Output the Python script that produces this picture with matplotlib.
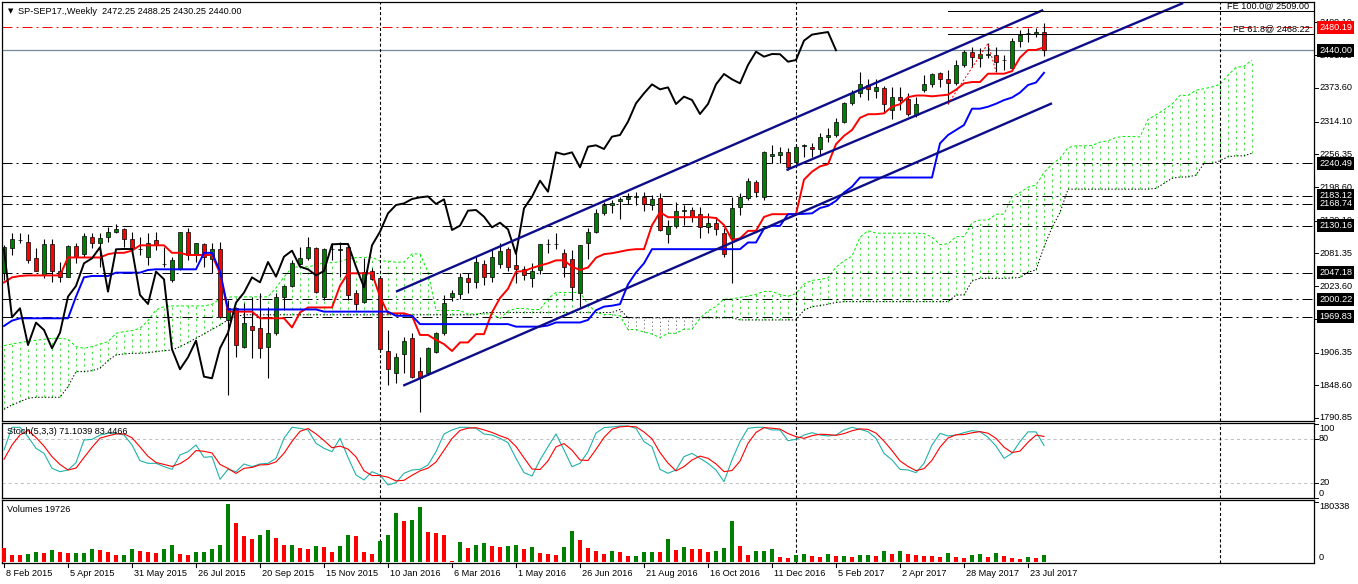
import numpy as np
import pandas as pd
import matplotlib
matplotlib.use('Agg')
from matplotlib import pyplot as plt
from matplotlib import transforms

plt.rcParams['font.family'] = ['Liberation Sans', 'DejaVu Sans']
plt.rcParams['lines.scale_dashes'] = False

W, H = 1358, 584
FS = 6.6

# SP-SEP17 weekly bars, 8 Feb 2015 .. 6 Aug 2017 (bar 0 .. 130)
opens = [2046.3, 2090.4, 2105.1, 2102.2, 2072.7, 2043.3, 2098.0, 2051.0, 2040.4, 2094.5,
         2080.4, 2111.0, 2100.4, 2109.8, 2118.6, 2123.9, 2106.3, 2088.6, 2075.7, 2105.1,
         2062.7, 2034.5, 2053.3, 2118.6, 2078.6, 2098.0, 2071.0, 2088.6, 1963.9, 1984.5,
         1916.8, 1953.3, 1949.2, 1916.8, 1940.3, 2003.9, 2023.9, 2062.7, 2072.7, 2090.4,
         2005.1, 2088.6, 2088.0, 2092.2, 2012.1, 1996.2, 2051.0, 2037.4, 1909.7, 1869.7,
         1903.9, 1931.5, 1874.4, 1869.7, 1908.0, 1940.3, 2005.0, 2009.7, 2037.4, 2031.5,
         2062.7, 2039.1, 2062.7, 2088.6, 2060.9, 2053.3, 2037.4, 2052.1, 2097.4, 2097.4,
         2081.5, 2070.9, 2012.1, 2099.1, 2119.7, 2153.2, 2166.2, 2173.3, 2176.8, 2181.5,
         2181.5, 2166.8, 2178.6, 2115.0, 2129.7, 2156.0, 2158.0, 2150.9, 2127.4, 2135.6,
         2116.8, 2108.0, 2163.9, 2178.6, 2206.9, 2181.5, 2254.0, 2255.7, 2259.8, 2243.3,
         2271.0, 2269.8, 2265.0, 2286.4, 2290.4, 2313.9, 2346.3, 2364.0, 2378.6, 2368.0,
         2372.8, 2334.5, 2358.1, 2354.5, 2325.7, 2369.8, 2379.8, 2400.4, 2388.7, 2381.6,
         2414.0, 2436.3, 2425.8, 2432.0, 2431.6, 2422.0, 2408.0, 2457.0, 2469.9, 2468.7,
         2472.25]
highs = [2096.3, 2116.9, 2116.9, 2115.7, 2090.4, 2106.3, 2106.3, 2066.8, 2096.3, 2099.2,
         2116.9, 2116.9, 2116.9, 2128.6, 2133.3, 2125.7, 2119.8, 2111.0, 2118.0, 2119.8,
         2093.3, 2075.7, 2119.2, 2125.7, 2100.4, 2100.4, 2099.2, 2102.2, 1999.2, 1987.4,
         1993.3, 2005.1, 2010.9, 1987.4, 2010.9, 2025.7, 2069.8, 2093.3, 2111.0, 2093.3,
         2090.4, 2099.2, 2102.0, 2093.3, 2016.8, 2072.7, 2055.0, 2040.4, 1946.2, 1905.0,
         1934.5, 1940.3, 1899.2, 1916.8, 1943.3, 2008.0, 2016.0, 2046.2, 2046.2, 2075.6,
         2069.7, 2088.6, 2100.3, 2092.0, 2081.5, 2060.0, 2063.8, 2098.0, 2106.2, 2116.8,
         2088.6, 2087.4, 2096.0, 2125.6, 2160.0, 2172.7, 2176.0, 2181.5, 2187.4, 2190.3,
         2190.3, 2184.5, 2187.4, 2140.3, 2171.5, 2166.8, 2162.7, 2162.7, 2152.1, 2146.2,
         2125.6, 2181.5, 2187.4, 2213.9, 2211.0, 2263.0, 2272.7, 2269.8, 2266.9, 2272.0,
         2274.0, 2275.7, 2294.5, 2302.0, 2319.8, 2349.2, 2369.8, 2402.2, 2388.7, 2388.7,
         2376.9, 2374.5, 2374.5, 2365.1, 2358.1, 2396.3, 2399.3, 2402.2, 2405.1, 2422.8,
         2440.4, 2445.1, 2443.4, 2452.0, 2446.3, 2431.6, 2461.0, 2475.7, 2478.7, 2478.7,
         2488.25]
lows = [2034.5, 2078.6, 2100.4, 2065.1, 2050.4, 2037.4, 2031.5, 2031.5, 2039.2, 2063.9,
        2074.5, 2090.4, 2058.0, 2102.2, 2116.9, 2093.3, 2081.6, 2078.6, 2061.0, 2087.4,
        2058.0, 2031.5, 2052.1, 2069.8, 2066.8, 2058.0, 2046.3, 1966.8, 1831.5, 1899.2,
        1913.9, 1896.2, 1896.2, 1860.9, 1937.4, 1981.5, 2021.5, 2061.0, 2069.8, 2010.9,
        1999.2, 2070.0, 2040.0, 1999.2, 1981.5, 1993.3, 2034.5, 1908.0, 1849.1, 1852.1,
        1869.7, 1860.9, 1802.1, 1866.0, 1905.0, 1937.4, 1998.0, 2000.0, 2010.9, 2019.7,
        2025.6, 2031.5, 2055.6, 2050.0, 2029.7, 2035.0, 2021.5, 2045.0, 2082.7, 2089.7,
        2040.3, 1999.1, 1987.4, 2072.0, 2118.0, 2150.0, 2152.0, 2141.5, 2168.0, 2167.0,
        2157.0, 2158.0, 2121.5, 2100.3, 2125.6, 2131.5, 2137.4, 2108.0, 2116.8, 2113.9,
        2075.6, 2028.5, 2149.1, 2175.6, 2181.5, 2175.6, 2240.4, 2240.4, 2228.6, 2239.2,
        2252.0, 2252.1, 2255.0, 2278.6, 2287.5, 2312.2, 2343.4, 2358.1, 2352.2, 2355.1,
        2331.6, 2318.0, 2334.5, 2323.9, 2322.8, 2366.9, 2374.5, 2375.7, 2345.25, 2378.6,
        2411.0, 2411.0, 2411.0, 2425.8, 2402.25, 2405.1, 2405.0, 2446.3, 2455.0, 2464.0,
        2430.25]
closes = [2093.3, 2106.3, 2105.7, 2069.8, 2051.0, 2098.0, 2051.0, 2039.2, 2094.5, 2075.7,
          2112.2, 2100.4, 2108.0, 2119.2, 2123.9, 2106.3, 2090.4, 2089.0, 2099.2, 2096.3,
          2063.3, 2069.8, 2118.6, 2078.6, 2099.2, 2074.5, 2088.6, 1968.6, 1984.5, 1919.7,
          1959.2, 1946.2, 1913.9, 1941.5, 2005.1, 2023.9, 2063.9, 2072.7, 2092.2, 2013.9,
          2088.6, 2089.2, 2089.0, 2008.0, 1992.1, 2049.2, 2035.7, 1912.1, 1876.8, 1898.0,
          1927.4, 1863.8, 1860.9, 1913.9, 1941.5, 1994.5, 2012.1, 2039.1, 2030.3, 2066.2,
          2040.3, 2075.6, 2086.2, 2057.9, 2053.3, 2042.7, 2050.3, 2097.4, 2098.0, 2098.0,
          2057.9, 2021.5, 2095.6, 2119.7, 2152.1, 2166.8, 2169.7, 2177.4, 2180.3, 2182.0,
          2168.6, 2176.8, 2122.7, 2130.3, 2156.8, 2158.0, 2146.2, 2127.4, 2135.6, 2123.9,
          2080.3, 2160.9, 2181.5, 2209.8, 2190.3, 2259.8, 2256.0, 2259.8, 2233.3, 2269.8,
          2272.2, 2265.7, 2287.5, 2290.4, 2313.9, 2346.3, 2364.0, 2379.8, 2371.0, 2374.5,
          2345.1, 2358.1, 2352.2, 2327.5, 2345.1, 2379.8, 2398.1, 2388.7, 2381.6, 2414.0,
          2437.5, 2428.7, 2433.4, 2433.0, 2419.8, 2422.8, 2457.0, 2467.6, 2470.0, 2472.2,
          2440.00]
volumes_k = [43, 20, 20, 23, 29, 28, 35, 29, 26, 27, 28, 38, 35, 29, 20, 21, 38, 32, 31, 26,
             38, 50, 23, 20, 29, 30, 38, 50, 173, 116, 77, 68, 80, 95, 71, 50, 51, 41, 40, 47,
             46, 29, 47, 80, 77, 29, 23, 62, 80, 146, 122, 125, 164, 89, 86, 80, 3, 60, 42, 51,
             57, 48, 45, 48, 51, 39, 45, 27, 24, 21, 45, 93, 66, 42, 33, 24, 33, 30, 18, 19,
             30, 31, 30, 69, 36, 45, 39, 38, 30, 33, 41, 122, 47, 20, 32, 33, 38, 14, 11, 20,
             23, 17, 16, 23, 17, 18, 14, 20, 21, 17, 32, 23, 32, 23, 20, 19, 17, 14, 26, 14,
             13, 20, 23, 14, 26, 17, 11, 10, 14, 11, 19.726]

# Stochastic(5,3,3) main line, and the first two signal values
stoch_main = [65.0, 95.9, 95.9, 83.2, 67.3, 60.4, 40.0, 35.4, 37.7, 47.7,
              78.6, 79.5, 85.4, 87.7, 87.7, 85.4, 71.8, 50.4, 46.8, 46.8,
              42.3, 38.6, 58.2, 62.7, 71.8, 55.0, 55.9, 25.0, 38.6, 35.4,
              45.9, 42.3, 45.9, 46.8, 53.6, 80.9, 95.9, 94.5, 92.3, 74.1,
              67.3, 62.7, 80.9, 55.0, 30.9, 24.1, 35.4, 30.9, 17.3, 20.4,
              33.2, 37.7, 38.6, 44.5, 62.7, 86.8, 92.3, 95.9, 95.9, 94.5,
              86.8, 85.4, 80.9, 75.0, 53.6, 34.1, 29.5, 51.4, 69.5, 86.8,
              65.0, 42.3, 46.8, 62.7, 88.0, 95.5, 96.4, 97.7, 97.7, 94.5,
              76.4, 69.5, 38.6, 33.2, 37.7, 55.9, 60.4, 53.6, 46.8, 37.7,
              21.8, 51.4, 76.4, 94.5, 95.9, 95.9, 92.3, 92.3, 77.7, 79.5,
              85.4, 88.6, 85.4, 84.1, 85.4, 92.3, 95.9, 93.2, 90.0, 80.9,
              60.4, 51.4, 38.6, 37.7, 34.1, 46.8, 71.8, 87.7, 84.1, 85.4,
              88.6, 91.4, 90.0, 82.3, 70.4, 53.6, 60.4, 76.4, 89.7, 89.7,
              71.1039]
stoch_signal_start = [52.3, 71.8]

# Ichimoku values on the first bars (their history lies left of the chart)
tenkan_start = [2030.0, 2039.0, 2041.5, 2042.5, 2042.5, 2042.5, 2042.5, 2042.5]
kijun_start = [1953.3, 1962.7, 1966.8, 1966.8, 1966.8, 1966.8, 1966.8, 1966.8, 1966.8,
               2005.0, 2039.2, 2041.5, 2041.5, 2041.5, 2047.4, 2047.4, 2047.4, 2047.4,
               2052.1, 2053.3, 2053.3, 2053.3, 2053.3, 2053.3, 2053.3]
span_a_start = [1918.6, 1921.5, 1923.9, 1926.2, 1928.0, 1929.8, 1931.5, 1931.5, 1929.8,
                1916.8, 1913.9, 1916.8, 1921.5, 1925.6, 1940.3, 1943.3, 1945.0, 1949.2,
                1962.7, 1981.5, 1987.4, 1988.6, 1988.6, 1988.6, 1988.6, 1988.6]
span_b_start = ([1806.2, 1813.8, 1819.7, 1825.6, 1827.4, 1827.4, 1827.4, 1827.4, 1846.2,
                 1872.7, 1872.7, 1874.4, 1878.6, 1892.1, 1902.1, 1903.9, 1905.0, 1905.0,
                 1906.2, 1908.0, 1909.7, 1910.9, 1916.8, 1923.9, 1931.5, 1939.2, 1947.4,
                 1955.0, 1963.9, 1970.0] + [1973.0] * 30 + [1977.0] * 17)

date_labels = ['8 Feb 2015', '5 Apr 2015', '31 May 2015', '26 Jul 2015', '20 Sep 2015',
               '15 Nov 2015', '10 Jan 2016', '6 Mar 2016', '1 May 2016', '26 Jun 2016',
               '21 Aug 2016', '16 Oct 2016', '11 Dec 2016', '5 Feb 2017', '2 Apr 2017',
               '28 May 2017', '23 Jul 2017']
price_ticks = [1790.85, 1848.60, 1906.35, 1965.85, 2023.60, 2081.35, 2139.10, 2198.60,
               2256.35, 2314.10, 2373.60, 2431.35, 2489.10]
levels = [2240.49, 2183.12, 2168.74, 2130.16, 2047.18, 2000.22, 1969.83]
red_level = 2480.19
bid = 2440.00
year_starts = [47, 99, 152]
channel_upper = [(49.0, 2013.8), (129.9, 2511.1)]
channel_lower = [(49.9, 1847.9), (131.0, 2346.4)]
channel_inner = [(97.8, 2228.6), (147.4, 2523.4)]
fe_points = [(118, 2345.25), (123, 2452.00), (124, 2402.25)]
fe_levels = [(100.0, 2509.00), (61.8, 2468.22)]

n = len(closes)
xi = np.arange(n)

# ichimoku
hi = pd.Series(highs)
lo = pd.Series(lows)
tenkan = ((hi.rolling(9).max() + lo.rolling(9).min()) / 2).to_numpy()
tenkan[:len(tenkan_start)] = tenkan_start
kijun = ((hi.rolling(26).max() + lo.rolling(26).min()) / 2).to_numpy()
kijun[:len(kijun_start)] = kijun_start
span_a = np.full(n + 26, np.nan)
span_a[26:] = (tenkan + kijun) / 2
span_a[:len(span_a_start)] = span_a_start
span_b = np.full(n + 26, np.nan)
span_b[26:] = ((hi.rolling(52).max() + lo.rolling(52).min()) / 2).to_numpy()
span_b[:len(span_b_start)] = span_b_start
xc = np.arange(n + 26)

sig = pd.Series(stoch_main).rolling(3).mean().to_numpy()
sig[:2] = stoch_signal_start

fig = plt.figure(figsize=(W / 100, H / 100), dpi=100)


def panel(top, bottom):
    a = fig.add_axes([2 / W, 1 - bottom / H, 1312 / W, (bottom - top) / H])
    a.set_xlim(-0.25, 163.75)
    a.set_xticks([])
    a.set_yticks([])
    for s in a.spines.values():
        s.set_linewidth(0.9)
        s.set_color('black')
    return a


ax = panel(2, 421)
axs = panel(423, 498)
axv = panel(500, 563)
ax.set_ylim(1785.5, 2525.2)
axs.set_ylim(-0.5, 101.8)
axv.set_ylim(-3006, 186350)

RX = 1 + 5 / 1312  # right-axis text x in axes fraction
TK = 1 + 4 / 1312

# --- main panel ---
dashdot = (0, (7.2, 2.9, 1.4, 2.9))
for p in levels:
    ax.axhline(p, color='black', lw=0.72, ls=dashdot, zorder=2)
ax.axhline(red_level, color='#ff0000', lw=0.72, ls=dashdot, zorder=2)
ax.axhline(bid, color='#778899', lw=0.9, zorder=2)

# kumo hatching
a_up = span_a >= span_b
ax.vlines(xc[a_up], span_b[a_up], span_a[a_up], color='#22dd22', lw=0.6,
          linestyles=[(0, (1.6, 2.6))], zorder=1)
ax.vlines(xc[~a_up], span_a[~a_up], span_b[~a_up], color='#444444', lw=0.6,
          linestyles=[(0, (0.8, 2.0))], zorder=1)
ax.plot(xc, span_a, color='#00ee00', lw=0.72, ls=(0, (2.0, 1.6)), zorder=1)
ax.plot(xc, span_b, color='black', lw=0.72, ls=(0, (1.0, 1.4)), zorder=1)

# candles
o = np.array(opens)
c = np.array(closes)
up = c >= o
ax.vlines(xi, lows, highs, color='black', lw=0.8, zorder=3)
ax.bar(xi, np.maximum(np.abs(c - o), 0.5), bottom=np.minimum(o, c), width=0.62,
       color=np.where(up, '#008000', '#ff0000'), edgecolor='black', linewidth=0.5, zorder=3)

# indicator lines
ax.plot(xi, tenkan, color='#ff0000', lw=1.4, zorder=4)
ax.plot(xi, kijun, color='#0000ff', lw=1.4, zorder=4)
ax.plot(xi[:n - 26], closes[26:], color='black', lw=1.4, zorder=4)

# channel
for line in (channel_upper, channel_lower, channel_inner):
    (x0, y0), (x1, y1) = line
    ax.plot([x0, x1], [y0, y1], color='#0d0d8a', lw=1.7, zorder=5, solid_capstyle='butt')

# fibo expansion
ax.plot([p[0] for p in fe_points], [p[1] for p in fe_points], color='#ff0000', lw=0.72,
        ls=(0, (1.4, 1.4)), zorder=5)
for pct, lvl in fe_levels:
    ax.plot([fe_points[0][0], 163.75], [lvl, lvl], color='black', lw=0.72, zorder=5)
    ax.text(163.2, lvl + 1.5, f'FE {pct:.1f}@ {lvl:.2f}', fontsize=FS, ha='right',
            va='bottom', zorder=6)

for b in year_starts:
    for a in (ax, axs, axv):
        a.axvline(b, color='black', lw=0.8, ls=(0, (2.2, 1.6)), zorder=2)

# right price scale
tr = transforms.blended_transform_factory(ax.transAxes, ax.transData)
for p in price_ticks:
    ax.plot([1, TK], [p, p], color='black', lw=0.7, transform=tr, clip_on=False)
    ax.text(RX, p, f'{p:.2f}', transform=tr, fontsize=FS, va='center', ha='left',
            clip_on=False)
box = dict(boxstyle='square,pad=0.2', fc='black', ec='none')
for p in levels + [bid]:
    ax.text(RX, p, f'{p:.2f}', transform=tr, fontsize=FS, va='center', ha='left',
            color='white', bbox=box, clip_on=False, zorder=10)
ax.text(RX, red_level, f'{red_level:.2f}', transform=tr, fontsize=FS, va='center',
        ha='left', color='white', clip_on=False, zorder=10,
        bbox=dict(boxstyle='square,pad=0.2', fc='#ff0000', ec='none'))

fig.text(8 / W, 1 - 11 / H, '\u25bc', fontsize=5, va='center', ha='left',
         family=['DejaVu Sans'])
fig.text(18 / W, 1 - 11 / H, 'SP-SEP17.,Weekly  2472.25 2488.25 2430.25 2440.00',
         fontsize=FS, va='center', ha='left')

# --- stochastic ---
for lv in (80, 20):
    axs.axhline(lv, color='#c0c0c0', lw=0.72, ls=(0, (2.2, 2.2)), zorder=1)
axs.plot(xi, stoch_main, color='#20b2aa', lw=0.8, zorder=3)
axs.plot(xi, sig, color='#ff0000', lw=0.8, zorder=3)
axs.text(5 / 1312, 1 - 8 / 75, 'Stoch(5,3,3) 71.1039 83.4466', transform=axs.transAxes,
         fontsize=FS, va='center', ha='left')
trs = transforms.blended_transform_factory(axs.transAxes, axs.transData)
for v, va in ((100, 'top'), (80, 'center'), (20, 'center'), (0, 'bottom')):
    axs.plot([1, TK], [v, v], color='black', lw=0.7, transform=trs, clip_on=False)
    axs.text(RX, v, str(v), transform=trs, fontsize=FS, va=va, ha='left', clip_on=False)

# --- volumes ---
vol = np.array(volumes_k) * 1000
vcol = ['#ff0000'] + ['#008000' if vol[i] > vol[i - 1] else '#ff0000' for i in range(1, n)]
axv.bar(xi, vol, width=0.62, color=vcol, linewidth=0, zorder=3)
axv.text(5 / 1312, 1 - 9 / 63, 'Volumes 19726', transform=axv.transAxes, fontsize=FS,
         va='center', ha='left')
trv = transforms.blended_transform_factory(axv.transAxes, axv.transData)
axv.text(RX, 180338, '180338', transform=trv, fontsize=FS, va='top', ha='left',
         clip_on=False)
axv.text(RX, 0, '0', transform=trv, fontsize=FS, va='bottom', ha='left', clip_on=False)
axv.plot([1, TK], [180338, 180338], color='black', lw=0.7, transform=trv, clip_on=False)

trd = transforms.blended_transform_factory(axv.transData, axv.transAxes)
for k, lab in enumerate(date_labels):
    b = 8 * k
    axv.plot([b, b], [0, -4 / 63], color='black', lw=0.8, transform=trd, clip_on=False)
    axv.text(b + 0.2, -10 / 63, lab, transform=trd, fontsize=FS, va='center', ha='left',
             clip_on=False)

fig.savefig('out.png', dpi=100)
